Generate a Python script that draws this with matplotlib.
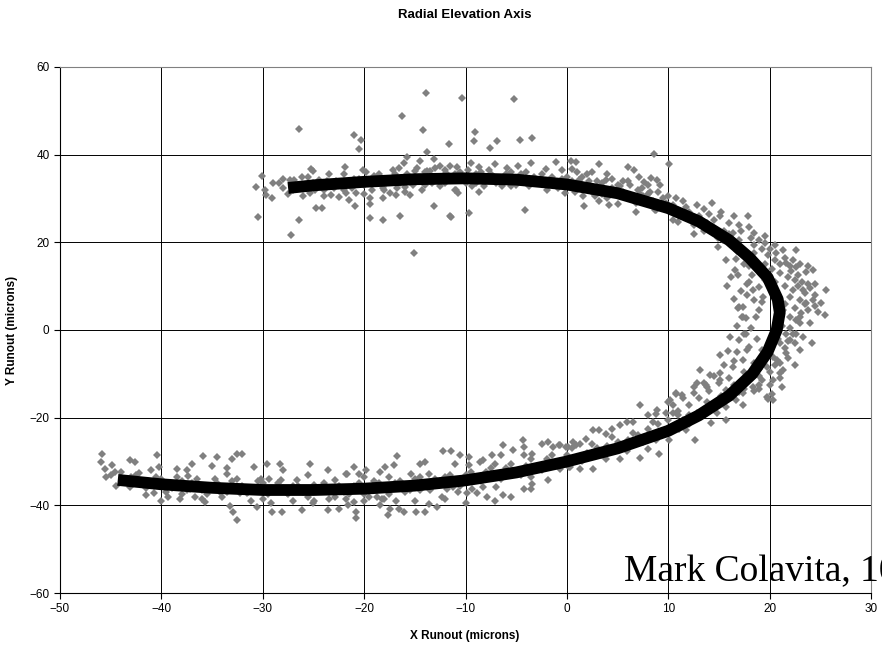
import matplotlib
matplotlib.use("Agg")
import matplotlib.pyplot as plt

# ---------------- data ----------------
top_x = [-30.66, -30.07, -30.5, -29.8, -29.7, -29.1, -28.4, -27.3, -26.9, -26.1, -26.4, -25.2, -25.0,
         -27.2, -26.4, -24.7, -24.2, -26.0, -25.3, -24.5, -23.7, -23.3, -22.5, -21.9, -21.8, -21.5,
         -20.9, -20.8, -21.0, -20.3, -20.5, -20.1, -19.4, -19.4, -19.4, -18.1, -16.5, -19.0, -18.1,
         -18.1, -17.4, -16.9, -16.8, -16.0, -16.6, -16.1, -15.8, -16.3, -15.1, -15.5, -15.0, -14.5,
         -14.3, -13.8, -13.5, -13.8, -14.2, -13.9, -13.1, -12.5, -13.1, -12.5, -11.9, -11.5, -11.6,
         -14.3, -13.3, -12.3, -11.2, -10.9,
         -10.3, -5.2, -9.1, -9.2, -7.6, -6.9, -4.6, -3.4, -1.1, -11.4, -9.7, -4.1, -10.8, -9.5,
         -8.7, -7.7, -7.1, -5.9, -4.8, -3.5, -2.1, -11.0, -10.7, -9.4, -8.7, -8.2, -6.4, -5.5, -3.7,
         -2.0, -0.9, -0.2, 0.4, 0.5, 0.9, 1.57, 1.67, 2.55, 3.2, 3.14, 4.0, 5.0, 6.0, 6.6, 7.1, 7.6,
         6.8, 6.8, 7.45, 8.3, 8.6, 8.8, 8.9, 1.2, 2.2, 3.9, 5.2, 5.8, 10.1,
         0.0, 1.0, 2.0, 3.0, 4.0, 5.0, 6.0, 7.0, 8.0, 9.0, 1.5, 2.5, 3.5, 4.5, 5.5, 6.5, 7.5, 8.5,
         9.5, 10.0, -0.5, -1.5, -2.5, -3.5, -4.5, -5.5, -6.5, -7.5, -8.5, -9.5, -1.0, -3.0, -5.0,
         -7.0, -9.0, -11.0, -12.0, -13.0, -14.0, -15.0, -16.0, -17.0, -18.0, -19.0, -20.0, -21.0,
         -22.0, -23.0, -24.0, -25.0, -26.0, -27.0, -28.0, -12.0, -14.0, -16.0, -18.0, -20.0, -22.0,
         -24.0,
         -29.0, -28.0, -27.5, -26.5, -25.5, -24.8, -23.5, -22.8, -22.0, -21.2, -20.5, -19.8, -19.2,
         -18.5, -17.8, -17.2, -16.5, -15.8, -15.2, -14.8, -13.0, -12.0, -11.5, -10.5, -10.0, -9.8,
         -9.0, -8.0, -7.2, -6.0, -5.2, -4.0, -3.2, -2.5, -1.8, -0.5, 0.5, 1.5, 2.5, 3.5, 4.5, 5.5,
         6.2, 7.2, 8.2, 9.2, 9.8, 2.8, 4.2, 0.8]
top_y = [32.6, 35.1, 25.7, 32.0, 30.9, 30.1, 33.6, 34.3, 34.3, 34.9, 45.8, 36.8, 36.2,
         21.7, 25.1, 27.8, 27.8, 30.5, 31.3, 34.3, 33.9, 30.9, 30.3, 37.2, 31.3, 29.7,
         28.4, 31.3, 44.4, 43.4, 41.2, 36.5, 30.1, 28.7, 25.5, 25.1, 26.1, 35.1, 32.4,
         30.1, 31.3, 30.9, 32.4, 32.6, 37.0, 38.2, 39.5, 48.9, 17.6, 30.9, 36.2, 38.5,
         32.0, 36.2, 36.2, 40.6, 45.6, 54.1, 38.9, 37.4, 28.4, 32.8, 35.9, 25.9, 42.4,
         34.3, 33.6, 34.3, 34.3, 32.0,
         52.9, 52.6, 45.1, 43.2, 41.5, 43.1, 43.3, 43.8, 38.3, 25.7, 26.7, 27.3, 37.2, 38.2,
         37.2, 36.6, 37.8, 37.0, 37.5, 38.0, 36.8, 32.0, 31.3, 32.8, 31.4, 32.8, 32.8, 32.8, 32.8,
         32.0, 32.4, 31.3, 38.5, 36.8, 38.3, 30.5, 28.2, 31.3, 29.4, 37.8, 30.1, 28.8, 37.2, 36.4, 34.9, 33.8,
         28.9, 27.0, 32.3, 34.6, 40.1, 27.4, 34.3, 34.3, 33.9, 34.3, 32.8, 30.9, 37.9,
         35.0, 36.0, 35.5, 34.0, 35.5, 33.0, 34.0, 32.0, 33.0, 31.5, 33.0, 32.0, 31.0, 32.5, 31.5, 30.0, 30.5, 29.5,
         28.0, 30.5, 34.5, 35.0, 35.5, 34.0, 35.5, 36.0, 34.5, 35.5, 36.0, 35.0, 33.0, 33.5, 33.0,
         33.5, 33.5, 35.5, 36.5, 35.0, 36.0, 35.0, 34.5, 35.5, 34.0, 33.5, 33.0, 34.5,
         33.0, 32.5, 32.0, 33.5, 33.0, 32.0, 32.5, 33.5, 33.0, 31.5, 32.0, 31.0, 32.0,
         30.5,
         33.5, 34.5, 31.0, 32.5, 35.0, 32.0, 35.5, 34.0, 35.5, 32.5, 34.5, 36.0, 32.0,
         35.5, 33.5, 36.5, 33.5, 35.5, 33.0, 37.0, 37.0, 35.0, 37.5, 36.0, 33.5, 36.5,
         35.5, 34.5, 35.0, 35.5, 34.5, 36.0, 35.0, 33.5, 34.0, 36.5, 34.0, 35.0, 36.0, 33.5, 34.5, 34.0,
         33.0, 31.0, 31.5, 33.0, 29.0, 30.5, 28.5, 31.5]

right_x = [8.7, 10.5, 11.0, 12.5, 13.8, 14.3, 15.1, 14.9, 15.4, 14.9, 16.4, 17.0, 17.9, 18.5, 19.0, 19.5,
           15.7, 16.7, 16.6, 16.9, 18.0, 18.4, 18.5, 17.4, 17.7, 18.7, 19.0, 19.0, 19.5, 19.3, 19.2,
           20.66, 21.3, 22.6, 21.6, 22.1, 22.6, 23.6, 24.3, 23.8, 23.3, 22.3, 23.0, 23.6, 24.3, 25.1,
           25.6, 23.1, 22.6, 22.0, 21.3, 21.6, 21.0, 22.6, 23.3, 21.6, 20.7, 21.3, 20.3, 22.0,
           17.0, 17.4, 16.1, 15.9, 15.1, 17.0, 17.7, 18.0, 17.4, 16.4, 15.1, 14.1, 13.1, 13.8, 12.5,
           10.8, 10.2, 8.9, 20.0, 20.3, 19.7, 19.0, 18.4, 17.4, 16.7, 15.7, 14.8, 19.7, 20.3, 21.0,
           19.5, 20.2, 21.0, 21.8, 22.5, 19.0, 20.5, 21.5, 22.8, 23.2, 24.0, 24.5, 23.5, 22.0, 21.5,
           22.5, 23.8, 24.8, 23.0, 22.0, 21.2, 22.3, 21.5, 20.8, 21.8, 20.5, 19.5, 19.0, 18.5, 20.0,
           21.2, 19.0, 18.0, 17.5, 20.5, 21.5, 22.3, 23.0, 23.8, 20.0, 19.5, 18.5, 18.0, 17.0, 16.0,
           15.5, 14.0, 13.0, 12.0, 11.5, 10.5, 9.5, 8.0, 12.5, 13.5, 16.8, 17.5, 18.0, 17.8, 18.2,
           17.5, 18.8, 19.2, 16.8, 16.0, 15.0, 14.0, 13.0, 12.0, 11.0, 9.8, 11.5, 12.8, 14.5, 16.0,
           17.0, 18.5, 19.8, 16.2, 15.8, 16.5, 16.8, 24.0, 25.5, 24.2, 23.0, 22.5, 21.0, 20.2,
           10.8, 11.8, 12.8, 13.5, 14.5, 15.2, 16.0, 16.5, 17.2, 18.2, 19.2, 20.5, 21.0, 22.0, 22.8,
           23.5, 24.5, 23.0, 24.5, 22.5, 21.8, 21.0, 20.0, 19.2, 18.5, 17.5, 18.3, 17.8, 17.2, 16.9,
           17.3, 17.8, 16.5, 15.5, 14.5, 13.5, 12.5, 11.5, 10.5, 12.0, 13.8, 15.2, 16.5]
right_y = [27.4, 25.1, 24.7, 24.0, 24.3, 28.9, 25.9, 20.9, 20.5, 19.0, 22.1, 20.5, 25.9, 22.1, 20.5, 19.8,
           16.0, 16.3, 13.7, 12.5, 11.0, 9.1, 6.8, 5.3, 2.7, 3.0, 4.6, 9.9, 11.4, 7.6, 6.5,
           17.5, 18.3, 18.3, 15.3, 13.4, 14.4, 13.3, 13.7, 10.6, 9.1, 9.1, 6.8, 6.1, 6.8, 6.1,
           9.1, 3.8, 2.3, 3.0, 4.6, -0.8, -3.0, -0.8, -1.5, -5.3, -6.8, -9.1, -11.4, -2.3,
           5.3, 3.0, -1.5, -4.9, -5.7, -2.3, -0.8, -3.8, -6.8, -8.4, -9.9, -10.3, -9.1, -12.9, -14.4,
           -14.4, -16.0, -18.3, -3.8, -6.1, -8.4, -10.6, -12.9, -14.4, -16.0, -17.5, -19.0, -15.2, -16.0, -9.9,
           15.0, 14.0, 13.0, 12.0, 11.5, 13.5, 11.0, 10.0, 12.5, 11.0, 9.5, 8.0, 8.5, 7.5, 6.0,
           5.0, 4.5, 4.0, 1.5, 0.5, 1.0, -1.0, -4.0, -2.0, -6.5, -8.0, -6.0, -9.0, -7.5, -12.5,
           -13.0, -13.5, -11.0, -9.5, 16.0, 16.5, 16.0, 15.0, 14.5, 18.5, 21.5, 19.5, 23.5, 24.0, 24.5,
           22.5, 26.5, 26.0, 27.0, 29.5, 28.5, 30.0, 31.0, 22.0, 22.5, 18.0, 15.0, 14.5, 8.0, 0.5,
           -1.0, -2.0, -4.5, -5.0, -11.0, -12.0, -14.0, -15.5, -17.0, -18.5, -19.0, -20.5, -19.0, -17.0, -14.5,
           -12.0, 17.5, 17.0, 12.0, 10.0, 7.0, 1.0, 1.5, 3.5, -3.0, -4.5, -8.0, -11.0, -14.5,
           30.0, 28.0, 28.5, 27.5, 25.0, 27.0, 22.0, 26.0, 22.5, 21.0, 18.5, 19.5, 15.0, 14.5, 10.0,
           6.0, 10.5, 3.0, 5.5, -3.0, -2.5, -7.5, -9.5, -11.5, -14.0, -13.5, 12.5, 10.5, 9.0, 5.0,
           3.0, -4.5, -7.0, -8.0, -10.5, -12.0, -13.0, -15.5, -17.0, -19.5, -16.5, -15.0, -12.5]

bottom_x = [-0.72, -0.07, 0.6, 1.25, 1.9, 2.6, 3.2, 3.9, 4.5, 5.2, 5.9, 6.5, 7.2, 8.0, 8.8, 10.0, 10.8,
            11.4, 12.8, 13.75, 15.1, 15.7, 17.0, 19.0, 19.8, 17.4, 15.7, 14.2, 12.6, 9.1, 7.2, 8.0, 5.2,
            3.9, 2.6, 1.25, 0.26, -0.72, 5.9, 8.8, 10.1, 11.1, 11.8, 13.1, 9.8,
            -21.8, -21.0, -20.5, -19.8, -18.4, -17.9, -17.1, -16.8, -15.4, -14.5, -14.0, -13.6, -12.2,
            -11.4, -11.0, -10.5, -9.7, -9.7, -8.6, -8.3, -7.4, -7.1, -6.5, -6.3, -5.3, -4.3, -4.2, -4.2,
            -3.4, -2.5, -1.9, -1.4, -0.75, 0.07, 0.9, -2.05, -0.75, 0.2,
            -21.8, -21.0, -20.8, -21.6, -20.8, -18.7, -18.2, -18.4, -17.6, -17.4, -16.9, -16.6, -16.1,
            -14.9, -14.0, -13.6, -12.8, -12.3, -11.8, -11.2, -10.7, -9.9, -9.4, -8.9, -7.9, -7.1, -6.3,
            -5.5, -4.2, -3.5, -3.4, -3.5, -1.9, -6.95, -8.3, -13.5, -14.5,
            -45.9, -46.0, -45.6, -45.5, -44.9, -44.6, -44.5, -43.1, -42.6, -43.1, -42.2, -41.5, -41.0,
            -40.7, -40.4, -40.2, -40.0, -39.3, -38.5, -38.2, -37.5, -37.4, -36.7, -35.9, -35.0, -34.7,
            -34.5, -35.7, -33.5, -33.2, -32.9, -32.5, -32.5, -32.0, -33.0, -32.2, -31.2, -30.9, -30.6,
            -29.6, -29.4, -28.3, -29.2, -28.1, -29.1, -27.6, -26.6, -26.1, -25.3, -24.9, -23.6, -23.6,
            -22.9, -22.5, -21.7, -43.8, -39.5, -37.2, -34.2, -31.6, -30.2, -28.2, -24.9, -22.9,
            -43.0, -42.0, -41.0, -40.0, -39.0, -38.0, -37.0, -36.0, -35.0, -34.0, -33.0, -32.0, -31.0,
            -30.0, -29.0, -28.0, -27.0, -26.0, -25.0, -24.0, -23.0, -22.0, -21.0, -20.0, -19.0, -18.0,
            -17.0, -16.0, -15.0, -14.0, -13.0, -12.0, -11.0, -10.0, -9.0, -8.0, -7.0, -6.0, -5.0, -4.0,
            -3.0, -2.0, -1.0, 0.0, 1.0, 2.0, 3.0, 4.0, 5.0, 6.0, 7.0, 8.0, 9.0, 10.0, 11.0, 12.0,
            -38.0, -36.0, -34.0, -30.0, -27.0, -25.0, -20.0, -18.0, -15.0, -12.0, -10.0, -37.0, -33.5,
            -28.0, -25.5, -20.0, -17.5,
            -45.0, -44.0, -42.5, -41.5, -40.5, -39.5, -38.5, -37.5, -36.5, -35.5, -34.5, -33.5, -32.5,
            -31.5, -30.5, -29.5, -28.5, -27.5, -26.5, -25.5, -24.5, -23.5, -22.5, -21.5, -20.5, -19.5,
            -18.5, -17.5, -16.5, -15.5, -14.5, -13.5, -12.5, -11.5, -10.5, -9.5, -8.5, -7.5, -6.5,
            -5.5, -4.5, -3.5, -2.5, -1.5, -0.5, 0.5, 1.5, 2.5, 3.5, 4.5, 5.5, 6.5, 7.5, 8.5, 9.5,
            10.5, 11.5]
bottom_y = [-26.3, -26.7, -25.6, -25.9, -24.8, -22.9, -22.9, -23.7, -22.5, -21.7, -21.0, -21.0, -17.2, -19.5,
            -19.1, -16.4, -14.5, -14.9, -12.2, -12.6, -11.5, -13.8, -14.1, -12.6, -15.7, -17.2, -20.5, -21.2,
            -25.0, -28.2, -29.1, -27.1, -29.4, -29.4, -31.6, -31.6, -31.3, -31.6, -27.5, -25.2, -25.2, -22.5,
            -22.9, -19.8, -22.9,
            -32.8, -31.3, -32.8, -32.0, -32.4, -31.3, -30.9, -28.8, -32.8, -30.5, -30.1, -32.8, -27.5,
            -27.5, -30.5, -28.6, -29.0, -30.9, -30.1, -29.7, -28.6, -30.5, -28.6, -26.3, -27.3, -25.0, -26.7, -28.6,
            -28.2, -25.9, -25.6, -26.7, -26.3, -26.7, -26.3, -30.5, -31.3, -31.3,
            -38.5, -39.2, -43.0, -40.0, -41.5, -38.1, -38.5, -40.0, -42.3, -40.8, -38.9, -40.8, -41.5,
            -41.5, -41.5, -39.6, -40.4, -38.1, -36.2, -35.8, -37.0, -37.3, -36.2, -37.3, -38.1, -38.9, -37.7,
            -38.1, -36.2, -36.2, -35.1, -33.5, -34.3, -35.8, -35.8, -36.2, -36.6,
            -28.4, -30.1, -31.6, -33.5, -30.9, -32.4, -35.7, -29.7, -30.1, -35.8, -32.6, -37.7, -32.0,
            -37.3, -28.6, -31.3, -38.9, -38.1, -31.6, -38.5, -32.0, -33.2, -38.1, -28.8, -31.1, -33.9,
            -29.0, -39.2, -32.8, -40.2, -41.5, -43.3, -28.4, -28.2, -29.4, -37.3, -38.9, -31.3, -40.4,
            -30.5, -33.9, -30.6, -39.5, -41.5, -41.5, -37.3, -34.3, -41.1, -30.5, -38.9, -32.0, -41.1,
            -38.1, -40.8, -32.8, -33.9, -35.1, -36.2, -37.0, -37.3, -33.9, -34.3, -35.4, -34.3,
            -33.5, -34.5, -35.0, -34.0, -36.0, -34.5, -35.0, -36.5, -35.5, -36.0, -34.5, -35.5, -36.0,
            -35.0, -36.5, -36.0, -35.5, -37.0, -36.0, -35.0, -36.5, -37.0, -35.5, -37.5, -34.5, -36.0,
            -35.0, -37.0, -34.0, -35.5, -34.0, -33.5, -34.5, -33.0, -34.0, -32.5, -33.0, -31.5, -32.5, -31.0,
            -31.5, -29.5, -30.5, -28.5, -29.0, -28.0, -27.0, -26.5, -25.5, -25.0, -24.0, -22.5, -21.5, -20.5, -19.5, -21.5,
            -37.5, -38.5, -38.0, -38.5, -39.0, -39.5, -39.0, -38.5, -39.0, -38.5, -39.5, -30.5, -31.5,
            -32.0, -33.0, -33.5, -33.5,
            -33.0, -32.5, -33.0, -36.0, -33.5, -37.0, -33.5, -36.5, -34.0, -37.5, -35.0, -37.0, -34.0,
            -37.0, -34.5, -37.5, -35.0, -37.5, -35.5, -38.0, -36.5, -38.5, -35.5, -37.5, -35.0, -38.0,
            -35.0, -37.5, -34.5, -36.5, -33.5, -36.5, -34.5, -33.0, -35.5, -32.5, -34.5, -31.5, -34.0,
            -30.5, -33.0, -29.5, -32.0, -28.5, -30.0, -27.0, -30.0, -26.0, -28.5, -24.5, -27.0, -23.5, -25.5, -21.0, -23.5,
            -19.0, -22.0]

fit_x = [-27.5, -25, -20, -15, -10, -5, 0, 5, 10, 13, 16, 18, 19.8, 20.8, 21.0, 20.7, 19.8, 18.3,
         16, 13, 10, 5, 0, -5, -10, -15, -20, -25, -30, -35, -40, -44.3]
fit_y = [32.4, 33.0, 33.8, 34.4, 34.6, 34.3, 33.2, 31.2, 27.8, 24.8, 20.5, 16.5, 12.0, 7.0, 4.0, 0.0,
         -5.0, -10.0, -15.0, -19.5, -23.0, -27.0, -30.0, -32.5, -34.3, -35.5, -36.2, -36.5, -36.5,
         -36.0, -35.2, -34.2]

x_ticks = [-50, -40, -30, -20, -10, 0, 10, 20, 30]
y_ticks = [-60, -40, -20, 0, 20, 40, 60]

title = "Radial Elevation Axis"
x_label = "X Runout (microns)"
y_label = "Y Runout (microns)"
note = "Mark Colavita, 10"

# ---------------- drawing ----------------
plt.rcParams['font.family'] = ['Liberation Sans', 'DejaVu Sans']

fig = plt.figure(figsize=(8.82, 6.48), dpi=100)
ax = fig.add_axes([60 / 882, 1 - 593 / 648, (871 - 60) / 882, (593 - 67) / 648])

ax.set_xlim(x_ticks[0], x_ticks[-1])
ax.set_ylim(y_ticks[0], y_ticks[-1])
ax.set_xticks(x_ticks)
ax.set_yticks(y_ticks)
ax.grid(True, color='black', linewidth=0.7)
ax.set_axisbelow(True)

for sx, sy in [(top_x, top_y), (right_x, right_y), (bottom_x, bottom_y)]:
    ax.plot(sx, sy, linestyle='none', marker='D', markersize=4.2,
            color='#808080', markeredgewidth=0, zorder=2)

ax.plot(fit_x, fit_y, color='black', linewidth=8.5, solid_capstyle='butt',
        solid_joinstyle='round', zorder=3)

for side in ['top', 'right']:
    ax.spines[side].set_color('#808080')
for side in ['left', 'bottom']:
    ax.spines[side].set_color('black')
for s in ax.spines.values():
    s.set_linewidth(0.8)

ax.tick_params(direction='out', length=4, width=0.8, labelsize=8.5, colors='black')

fig.text(465 / 882, 1 - 15 / 648, title, ha='center', va='center',
         fontsize=9.5, fontweight='bold')
fig.text(465 / 882, 1 - 636 / 648, x_label, ha='center', va='center',
         fontsize=8.5, fontweight='bold')
fig.text(12 / 882, 1 - 330 / 648, y_label, ha='center', va='center',
         rotation=90, fontsize=8.5, fontweight='bold')

# The reference shows this note running past the right edge of the figure.
fig.text(624 / 882, 1 - 581 / 648, note, ha='left', va='baseline',
         fontsize=27, family=['Liberation Serif', 'DejaVu Serif'])

fig.savefig('out.png', dpi=100)
